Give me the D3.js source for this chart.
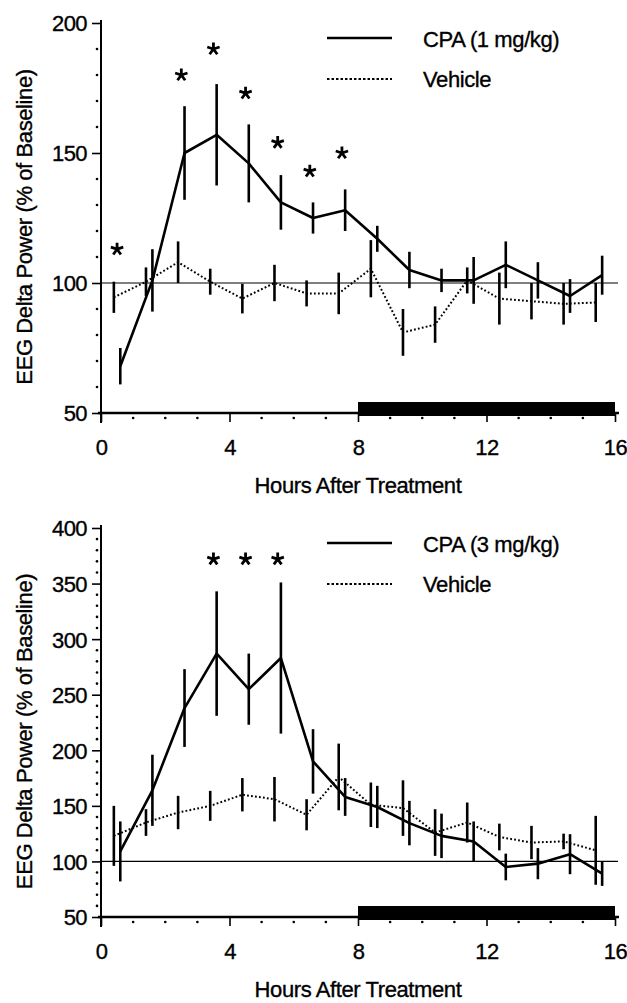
<!DOCTYPE html>
<html lang="en">
<head>
<meta charset="UTF-8">
<title>EEG Delta Power vs Hours After Treatment</title>
<script src="https://d3js.org/d3.v7.min.js"></script>
<style>
    body { margin: 0; background: #fff; }
    svg { display: block; font-family: "Liberation Sans", Arial, Helvetica, sans-serif; }
    .lbl { font-size: 22px; fill: #000; stroke: #000; stroke-width: 0.35px; letter-spacing: -0.4px; }
    .axis path, .axis line { stroke: #000; }
    .axis text { font-size: 22px; letter-spacing: -0.6px; fill: #000; stroke: #000; stroke-width: 0.35px; font-family: "Liberation Sans", Arial, sans-serif; }
</style>
</head>
<body>
<svg id="chart" width="627" height="1003"></svg>
<script>
// x positions (hours after treatment) of the hourly means
var hoursCpa = [0.6, 1.6, 2.6, 3.6, 4.6, 5.6, 6.6, 7.6, 8.6, 9.6, 10.6, 11.6, 12.6, 13.6, 14.6, 15.6];
var hoursVehicle = [0.4, 1.4, 2.4, 3.4, 4.4, 5.4, 6.4, 7.4, 8.4, 9.4, 10.4, 11.4, 12.4, 13.4, 14.4, 15.4];
var xTicks = [0, 4, 8, 12, 16];
var darkPeriod = [8, 16];

// panel 1: CPA 1 mg/kg
var cpa1Mean = [68, 101, 150, 157, 146, 131, 125, 128, 117, 105, 101, 101, 107, 101, 95, 103];
var cpa1Sem = [7, 12, 18, 19.5, 15, 10.5, 6, 8, 5, 7, 4.5, 9, 9, 7, 6.5, 7.5];
var vehicle1Mean = [94.5, 100.5, 108, 100.5, 94, 100, 96, 96, 105.5, 81, 84, 101, 94, 93, 92, 92.5];
var vehicle1Sem = [6, 5.5, 8, 5, 5.7, 7, 5, 8, 11, 9, 7, 5, 10, 7, 8, 7.5];
var star1Hours = [0.5, 2.5, 3.5, 4.5, 5.5, 6.5, 7.5];
var star1Values = [113, 180, 190, 173, 154, 143, 150];
var yTicks1 = [50, 100, 150, 200];

// panel 2: CPA 3 mg/kg
var cpa3Mean = [109, 164, 238, 287, 255, 283, 190, 158, 149, 134.5, 123, 118, 95, 98, 106.5, 89];
var cpa3Sem = [27, 32, 35, 56, 32, 68, 29, 17, 19, 20, 20, 18, 12, 14, 18, 11];
var vehicle3Mean = [123, 135, 144, 150, 160, 156, 142, 176, 151, 148, 126, 135, 122, 117, 118, 110];
var vehicle3Sem = [27, 12, 15, 13.5, 15, 20, 14, 30, 20, 25, 21, 18, 12, 15, 7, 31];
var star3Hours = [3.5, 4.5, 5.5];
var star3Values = [372, 372, 372];
var yTicks3 = [50, 100, 150, 200, 250, 300, 350, 400];

var configuration = {
    "x_left": 101,
    "x_right": 615,
    "y_label_x": 32,
    "legend_line_x1": 327,
    "legend_line_x2": 392,
    "legend_text_x": 423,
    "dark_bar_height": 14,
    "star_radius": 6.5
};

var svg = d3.select("#chart");

var xScale = d3.scaleLinear()
    .domain([0, 16])
    .range([configuration.x_left, configuration.x_right]);

function starPath(r) {
    var p = "";
    for (var k = 0; k < 5; k++) {
        var a = (k * 72 - 90) * Math.PI / 180;
        p += "M0,0L" + (r * Math.cos(a)).toFixed(2) + "," + (r * Math.sin(a)).toFixed(2);
    }
    return p;
}

function drawPanel(opt) {
    var g = svg.append("g");
    var yScale = d3.scaleLinear()
        .domain([opt.yTicks[0], opt.yTicks[opt.yTicks.length - 1]])
        .range([opt.yBottom, opt.yTop]);
    var y0 = yScale(opt.yTicks[0]);

    // dark period bar
    g.append("rect")
        .attr("x", xScale(darkPeriod[0]))
        .attr("y", y0 - configuration.dark_bar_height + 3)
        .attr("width", xScale(darkPeriod[1]) - xScale(darkPeriod[0]))
        .attr("height", configuration.dark_bar_height)
        .attr("fill", "#000");

    // y axis
    var yAxis = g.append("g").attr("class", "axis")
        .attr("transform", "translate(" + configuration.x_left + ",0)")
        .call(d3.axisLeft(yScale).tickValues(opt.yTicks).tickSizeInner(9).tickSizeOuter(0).tickPadding(5));
    yAxis.select(".domain").attr("stroke-width", 2).attr("d", "M0," + (y0 + 10) + "V" + (opt.yTop - 3));
    yAxis.selectAll(".tick line").attr("stroke-width", 1.6);
    yAxis.selectAll(".tick text").attr("dy", "0.36em");

    // y minor dots every 10
    var minorY = d3.range(opt.yTicks[0] + 10, opt.yTicks[opt.yTicks.length - 1], 10)
        .filter(function (v) { return v % 50 !== 0; });
    g.selectAll("circle.ydot").data(minorY).enter().append("circle")
        .attr("cx", configuration.x_left - 4)
        .attr("cy", function (d) { return yScale(d); })
        .attr("r", 1.3)
        .attr("fill", "#000");

    // x axis
    var xAxis = g.append("g").attr("class", "axis")
        .attr("transform", "translate(0," + y0 + ")")
        .call(d3.axisBottom(xScale).tickValues(xTicks).tickSizeInner(9).tickSizeOuter(0).tickPadding(17));
    xAxis.select(".domain").attr("stroke-width", 2.5).attr("d", "M" + (configuration.x_left - 3) + ",0H" + (xScale(16) + 4));
    xAxis.selectAll(".tick line").attr("stroke-width", 1.6);

    var minorX = d3.range(1, 16).filter(function (h) { return h % 4 !== 0; });
    g.selectAll("circle.xdot").data(minorX).enter().append("circle")
        .attr("cx", function (d) { return xScale(d); })
        .attr("cy", y0 + 5)
        .attr("r", 1.3)
        .attr("fill", "#000");

    // baseline 100%
    g.append("line")
        .attr("x1", xScale(0)).attr("x2", xScale(16) + 3)
        .attr("y1", yScale(100)).attr("y2", yScale(100))
        .attr("stroke", "#000").attr("stroke-width", 1.2);

    // labels
    g.append("text").attr("class", "lbl")
        .attr("x", (xScale(0) + xScale(16)) / 2)
        .attr("y", y0 + opt.xLabelOffset)
        .attr("text-anchor", "middle")
        .text("Hours After Treatment");
    g.append("text").attr("class", "lbl")
        .attr("transform", "translate(" + configuration.y_label_x + "," + ((opt.yTop + opt.yBottom) / 2 + 9) + ") rotate(-90)")
        .attr("text-anchor", "middle")
        .text("EEG Delta Power (% of Baseline)");

    // vehicle series (dotted)
    var vehicleData = hoursVehicle.map(function (h, i) { return {h: h, m: opt.vehicleMean[i], s: opt.vehicleSem[i]}; });
    var cpaData = hoursCpa.map(function (h, i) { return {h: h, m: opt.cpaMean[i], s: opt.cpaSem[i]}; });
    var line = d3.line()
        .x(function (d) { return xScale(d.h); })
        .y(function (d) { return yScale(d.m); });

    g.append("path").datum(vehicleData)
        .attr("d", line).attr("fill", "none")
        .attr("stroke", "#000").attr("stroke-width", 2)
        .attr("stroke-dasharray", "1.8,2.2");
    g.selectAll("line.vbar").data(vehicleData).enter().append("line")
        .attr("x1", function (d) { return xScale(d.h); })
        .attr("x2", function (d) { return xScale(d.h); })
        .attr("y1", function (d) { return yScale(d.m - d.s); })
        .attr("y2", function (d) { return yScale(d.m + d.s); })
        .attr("stroke", "#000").attr("stroke-width", 2.6);

    // CPA series (solid)
    g.append("path").datum(cpaData)
        .attr("d", line).attr("fill", "none")
        .attr("stroke", "#000").attr("stroke-width", 2.6)
        .attr("stroke-linejoin", "round");
    g.selectAll("line.cbar").data(cpaData).enter().append("line")
        .attr("x1", function (d) { return xScale(d.h); })
        .attr("x2", function (d) { return xScale(d.h); })
        .attr("y1", function (d) { return yScale(d.m - d.s); })
        .attr("y2", function (d) { return yScale(d.m + d.s); })
        .attr("stroke", "#000").attr("stroke-width", 2.6);

    // significance stars
    g.selectAll("path.star").data(opt.starHours).enter().append("path")
        .attr("d", starPath(configuration.star_radius))
        .attr("transform", function (d, i) { return "translate(" + xScale(d) + "," + yScale(opt.starValues[i]) + ")"; })
        .attr("stroke", "#000").attr("stroke-width", 2.8).attr("fill", "none");

    // legend
    var ly = opt.yTop;
    g.append("line")
        .attr("x1", configuration.legend_line_x1).attr("x2", configuration.legend_line_x2)
        .attr("y1", ly + 15).attr("y2", ly + 15)
        .attr("stroke", "#000").attr("stroke-width", 2.5);
    g.append("text").attr("class", "lbl")
        .attr("x", configuration.legend_text_x).attr("y", ly + 24)
        .text(opt.cpaLabel);
    g.append("line")
        .attr("x1", configuration.legend_line_x1).attr("x2", configuration.legend_line_x2)
        .attr("y1", ly + 56).attr("y2", ly + 56)
        .attr("stroke", "#000").attr("stroke-width", 2)
        .attr("stroke-dasharray", "2.5,2");
    g.append("text").attr("class", "lbl")
        .attr("x", configuration.legend_text_x).attr("y", ly + 64)
        .text("Vehicle");
}

drawPanel({
    yTicks: yTicks1, yTop: 23, yBottom: 413, xLabelOffset: 80,
    cpaMean: cpa1Mean, cpaSem: cpa1Sem,
    vehicleMean: vehicle1Mean, vehicleSem: vehicle1Sem,
    starHours: star1Hours, starValues: star1Values,
    cpaLabel: "CPA (1 mg/kg)"
});

drawPanel({
    yTicks: yTicks3, yTop: 528, yBottom: 917, xLabelOffset: 80,
    cpaMean: cpa3Mean, cpaSem: cpa3Sem,
    vehicleMean: vehicle3Mean, vehicleSem: vehicle3Sem,
    starHours: star3Hours, starValues: star3Values,
    cpaLabel: "CPA (3 mg/kg)"
});
</script>
</body>
</html>
